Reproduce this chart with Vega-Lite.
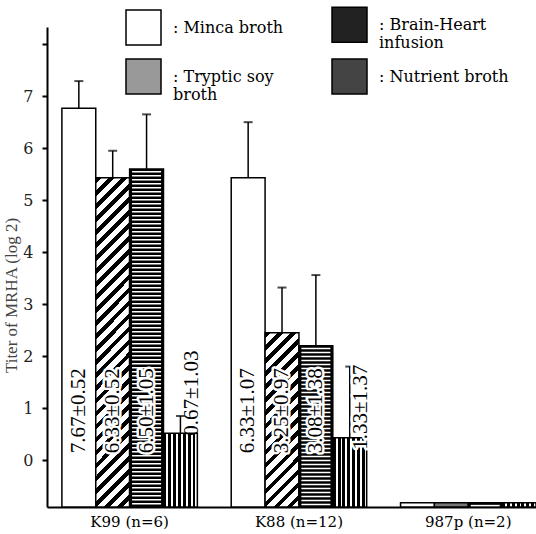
{
"$schema":"https://vega.github.io/schema/vega-lite/v6.json",
"width":489,"height":480,
"autosize":{"type":"none"},
"padding":{"left":47,"top":27,"right":0,"bottom":27},
"background":"white",
"config":{"view":{"stroke":null},"font":"Liberation Serif"},
"data":{"values":[
{"strain":"K99 (n=6)","medium":"Minca broth","value":7.67,"upper":8.19,"label":"7.67±0.52"},
{"strain":"K99 (n=6)","medium":"Tryptic soy broth","value":6.33,"upper":6.85,"label":"6.33±0.52"},
{"strain":"K99 (n=6)","medium":"Brain-Heart infusion","value":6.5,"upper":7.55,"label":"6.50±1.05"},
{"strain":"K99 (n=6)","medium":"Nutrient broth","value":1.42,"upper":1.75,"label":"0.67±1.03"},
{"strain":"K88 (n=12)","medium":"Minca broth","value":6.33,"upper":7.4,"label":"6.33±1.07"},
{"strain":"K88 (n=12)","medium":"Tryptic soy broth","value":3.35,"upper":4.22,"label":"3.25±0.97"},
{"strain":"K88 (n=12)","medium":"Brain-Heart infusion","value":3.1,"upper":4.46,"label":"3.08±1.38"},
{"strain":"K88 (n=12)","medium":"Nutrient broth","value":1.33,"upper":2.7,"label":"1.33±1.37"},
{"strain":"987p (n=2)","medium":"Minca broth","value":0.08},
{"strain":"987p (n=2)","medium":"Tryptic soy broth","value":0.08},
{"strain":"987p (n=2)","medium":"Brain-Heart infusion","value":0.08},
{"strain":"987p (n=2)","medium":"Nutrient broth","value":0.08}
]},
"encoding":{
 "x":{"field":"strain","type":"nominal","scale":{"domain":["K99 (n=6)","K88 (n=12)","987p (n=2)"],"paddingInner":0.2,"paddingOuter":0.044,"align":1},
  "axis":{"title":null,"labelAngle":0,"ticks":false,"domainColor":"black","domainWidth":2,"labelFont":"DejaVu Serif","labelFontSize":15,"labelColor":"black","labelPadding":7}},
 "xOffset":{"field":"medium","type":"nominal","scale":{"domain":["Minca broth","Tryptic soy broth","Brain-Heart infusion","Nutrient broth"],"paddingInner":0,"paddingOuter":0}}
},
"layer":[
{"mark":{"type":"bar","stroke":"black","strokeWidth":1.5},
 "encoding":{
  "y":{"field":"value","type":"quantitative","scale":{"domain":[0,9.23],"nice":false},
   "axis":{"values":[0.9,1.9,2.9,3.9,4.9,5.9,6.9,7.9,8.9],"labelExpr":"datum.value > 8 ? '' : '' + (round(datum.value) - 1)","title":"Titer of MRHA (log 2)","titleFont":"Liberation Serif","titleFontSize":17,"titleFontWeight":"normal","titleColor":"#444","titleX":-27,"titleY":268,"grid":false,"domainColor":"black","domainWidth":2,"tickColor":"black","tickWidth":2,"tickSize":5,"labelFont":"DejaVu Serif","labelFontSize":16,"labelColor":"#222","labelPadding":9}},
  "fill":{"field":"medium","type":"nominal",
   "scale":{"domain":["Minca broth","Tryptic soy broth","Brain-Heart infusion","Nutrient broth"],"range":["white","#999","#222","#444"]},
   "legend":{"orient":"none","legendX":78,"legendY":-21,"columns":2,"title":null,"symbolType":"square","symbolSize":1225,"symbolStrokeColor":"black","symbolStrokeWidth":1.5,"labelFont":"DejaVu Serif","labelFontSize":16,"labelColor":"black","labelOffset":11,"rowPadding":5,"columnPadding":45,"labelLimit":250,"labelBaseline":"middle","padding":0,
    "labelExpr":"datum.label == 'Brain-Heart infusion' ? [': Brain-Heart', '\u00a0\u00a0\u00a0infusion'] : datum.label == 'Tryptic soy broth' ? [': Tryptic soy', '\u00a0\u00a0broth'] : ': ' + datum.label"},
   "condition":[
    {"test":"datum.medium=='Tryptic soy broth' && datum.strain=='K99 (n=6)'","value":{"gradient":"linear","x1":0,"y1":0,"x2":0.113,"y2":1.092,"stops":[
{"offset":0,"color":"#000"},{"offset":0.0161,"color":"#000"},{"offset":0.0161,"color":"#fff"},{"offset":0.0357,"color":"#fff"},
{"offset":0.0357,"color":"#000"},{"offset":0.0518,"color":"#000"},{"offset":0.0518,"color":"#fff"},{"offset":0.0714,"color":"#fff"},
{"offset":0.0714,"color":"#000"},{"offset":0.0875,"color":"#000"},{"offset":0.0875,"color":"#fff"},{"offset":0.1071,"color":"#fff"},
{"offset":0.1071,"color":"#000"},{"offset":0.1232,"color":"#000"},{"offset":0.1232,"color":"#fff"},{"offset":0.1429,"color":"#fff"},
{"offset":0.1429,"color":"#000"},{"offset":0.1589,"color":"#000"},{"offset":0.1589,"color":"#fff"},{"offset":0.1786,"color":"#fff"},
{"offset":0.1786,"color":"#000"},{"offset":0.1946,"color":"#000"},{"offset":0.1946,"color":"#fff"},{"offset":0.2143,"color":"#fff"},
{"offset":0.2143,"color":"#000"},{"offset":0.2304,"color":"#000"},{"offset":0.2304,"color":"#fff"},{"offset":0.25,"color":"#fff"},
{"offset":0.25,"color":"#000"},{"offset":0.2661,"color":"#000"},{"offset":0.2661,"color":"#fff"},{"offset":0.2857,"color":"#fff"},
{"offset":0.2857,"color":"#000"},{"offset":0.3018,"color":"#000"},{"offset":0.3018,"color":"#fff"},{"offset":0.3214,"color":"#fff"},
{"offset":0.3214,"color":"#000"},{"offset":0.3375,"color":"#000"},{"offset":0.3375,"color":"#fff"},{"offset":0.3571,"color":"#fff"},
{"offset":0.3571,"color":"#000"},{"offset":0.3732,"color":"#000"},{"offset":0.3732,"color":"#fff"},{"offset":0.3929,"color":"#fff"},
{"offset":0.3929,"color":"#000"},{"offset":0.4089,"color":"#000"},{"offset":0.4089,"color":"#fff"},{"offset":0.4286,"color":"#fff"},
{"offset":0.4286,"color":"#000"},{"offset":0.4446,"color":"#000"},{"offset":0.4446,"color":"#fff"},{"offset":0.4643,"color":"#fff"},
{"offset":0.4643,"color":"#000"},{"offset":0.4804,"color":"#000"},{"offset":0.4804,"color":"#fff"},{"offset":0.5,"color":"#fff"},
{"offset":0.5,"color":"#000"},{"offset":0.5161,"color":"#000"},{"offset":0.5161,"color":"#fff"},{"offset":0.5357,"color":"#fff"},
{"offset":0.5357,"color":"#000"},{"offset":0.5518,"color":"#000"},{"offset":0.5518,"color":"#fff"},{"offset":0.5714,"color":"#fff"},
{"offset":0.5714,"color":"#000"},{"offset":0.5875,"color":"#000"},{"offset":0.5875,"color":"#fff"},{"offset":0.6071,"color":"#fff"},
{"offset":0.6071,"color":"#000"},{"offset":0.6232,"color":"#000"},{"offset":0.6232,"color":"#fff"},{"offset":0.6429,"color":"#fff"},
{"offset":0.6429,"color":"#000"},{"offset":0.6589,"color":"#000"},{"offset":0.6589,"color":"#fff"},{"offset":0.6786,"color":"#fff"},
{"offset":0.6786,"color":"#000"},{"offset":0.6946,"color":"#000"},{"offset":0.6946,"color":"#fff"},{"offset":0.7143,"color":"#fff"},
{"offset":0.7143,"color":"#000"},{"offset":0.7304,"color":"#000"},{"offset":0.7304,"color":"#fff"},{"offset":0.75,"color":"#fff"},
{"offset":0.75,"color":"#000"},{"offset":0.7661,"color":"#000"},{"offset":0.7661,"color":"#fff"},{"offset":0.7857,"color":"#fff"},
{"offset":0.7857,"color":"#000"},{"offset":0.8018,"color":"#000"},{"offset":0.8018,"color":"#fff"},{"offset":0.8214,"color":"#fff"},
{"offset":0.8214,"color":"#000"},{"offset":0.8375,"color":"#000"},{"offset":0.8375,"color":"#fff"},{"offset":0.8571,"color":"#fff"},
{"offset":0.8571,"color":"#000"},{"offset":0.8732,"color":"#000"},{"offset":0.8732,"color":"#fff"},{"offset":0.8929,"color":"#fff"},
{"offset":0.8929,"color":"#000"},{"offset":0.9089,"color":"#000"},{"offset":0.9089,"color":"#fff"},{"offset":0.9286,"color":"#fff"},
{"offset":0.9286,"color":"#000"},{"offset":0.9446,"color":"#000"},{"offset":0.9446,"color":"#fff"},{"offset":0.9643,"color":"#fff"},
{"offset":0.9643,"color":"#000"},{"offset":0.9804,"color":"#000"},{"offset":0.9804,"color":"#fff"},{"offset":1,"color":"#fff"}]}},
    {"test":"datum.medium=='Tryptic soy broth' && datum.strain=='K88 (n=12)'","value":{"gradient":"linear","x1":0,"y1":0,"x2":0.225,"y2":1.152,"stops":[
{"offset":0,"color":"#000"},{"offset":0.0281,"color":"#000"},{"offset":0.0281,"color":"#fff"},{"offset":0.0625,"color":"#fff"},
{"offset":0.0625,"color":"#000"},{"offset":0.0906,"color":"#000"},{"offset":0.0906,"color":"#fff"},{"offset":0.125,"color":"#fff"},
{"offset":0.125,"color":"#000"},{"offset":0.1531,"color":"#000"},{"offset":0.1531,"color":"#fff"},{"offset":0.1875,"color":"#fff"},
{"offset":0.1875,"color":"#000"},{"offset":0.2156,"color":"#000"},{"offset":0.2156,"color":"#fff"},{"offset":0.25,"color":"#fff"},
{"offset":0.25,"color":"#000"},{"offset":0.2781,"color":"#000"},{"offset":0.2781,"color":"#fff"},{"offset":0.3125,"color":"#fff"},
{"offset":0.3125,"color":"#000"},{"offset":0.3406,"color":"#000"},{"offset":0.3406,"color":"#fff"},{"offset":0.375,"color":"#fff"},
{"offset":0.375,"color":"#000"},{"offset":0.4031,"color":"#000"},{"offset":0.4031,"color":"#fff"},{"offset":0.4375,"color":"#fff"},
{"offset":0.4375,"color":"#000"},{"offset":0.4656,"color":"#000"},{"offset":0.4656,"color":"#fff"},{"offset":0.5,"color":"#fff"},
{"offset":0.5,"color":"#000"},{"offset":0.5281,"color":"#000"},{"offset":0.5281,"color":"#fff"},{"offset":0.5625,"color":"#fff"},
{"offset":0.5625,"color":"#000"},{"offset":0.5906,"color":"#000"},{"offset":0.5906,"color":"#fff"},{"offset":0.625,"color":"#fff"},
{"offset":0.625,"color":"#000"},{"offset":0.6531,"color":"#000"},{"offset":0.6531,"color":"#fff"},{"offset":0.6875,"color":"#fff"},
{"offset":0.6875,"color":"#000"},{"offset":0.7156,"color":"#000"},{"offset":0.7156,"color":"#fff"},{"offset":0.75,"color":"#fff"},
{"offset":0.75,"color":"#000"},{"offset":0.7781,"color":"#000"},{"offset":0.7781,"color":"#fff"},{"offset":0.8125,"color":"#fff"},
{"offset":0.8125,"color":"#000"},{"offset":0.8406,"color":"#000"},{"offset":0.8406,"color":"#fff"},{"offset":0.875,"color":"#fff"},
{"offset":0.875,"color":"#000"},{"offset":0.9031,"color":"#000"},{"offset":0.9031,"color":"#fff"},{"offset":0.9375,"color":"#fff"},
{"offset":0.9375,"color":"#000"},{"offset":0.9656,"color":"#000"},{"offset":0.9656,"color":"#fff"},{"offset":1,"color":"#fff"}]}},
    {"test":"datum.medium=='Tryptic soy broth'","value":"#777"},
    {"test":"datum.medium=='Brain-Heart infusion'","value":"black"},
    {"test":"datum.medium=='Nutrient broth'","value":{"gradient":"linear","x1":0,"y1":0,"x2":1,"y2":0,"stops":[
{"offset":0,"color":"#000"},{"offset":0.0857,"color":"#000"},{"offset":0.0857,"color":"#fff"},{"offset":0.1429,"color":"#fff"},
{"offset":0.1429,"color":"#000"},{"offset":0.2286,"color":"#000"},{"offset":0.2286,"color":"#fff"},{"offset":0.2857,"color":"#fff"},
{"offset":0.2857,"color":"#000"},{"offset":0.3714,"color":"#000"},{"offset":0.3714,"color":"#fff"},{"offset":0.4286,"color":"#fff"},
{"offset":0.4286,"color":"#000"},{"offset":0.5143,"color":"#000"},{"offset":0.5143,"color":"#fff"},{"offset":0.5714,"color":"#fff"},
{"offset":0.5714,"color":"#000"},{"offset":0.6571,"color":"#000"},{"offset":0.6571,"color":"#fff"},{"offset":0.7143,"color":"#fff"},
{"offset":0.7143,"color":"#000"},{"offset":0.8,"color":"#000"},{"offset":0.8,"color":"#fff"},{"offset":0.8571,"color":"#fff"},
{"offset":0.8571,"color":"#000"},{"offset":0.9429,"color":"#000"},{"offset":0.9429,"color":"#fff"},{"offset":1,"color":"#fff"}]}}
   ]}
 }},
{"transform":[{"filter":"datum.medium=='Brain-Heart infusion'"}],
 "mark":{"type":"rule","color":"white","strokeWidth":29,"strokeDash":[1.5,2.5],"strokeDashOffset":2,"strokeCap":"butt"},
 "encoding":{"y":{"field":"value","type":"quantitative"},"y2":{"datum":0}}},
{"transform":[{"filter":"isValid(datum.upper)"}],
 "mark":{"type":"rule","color":"black","strokeWidth":1.5},
 "encoding":{"y":{"field":"value","type":"quantitative"},"y2":{"field":"upper"}}},
{"transform":[{"filter":"isValid(datum.upper)"}],
 "mark":{"type":"tick","color":"black","thickness":2,"size":9},
 "encoding":{"y":{"field":"upper","type":"quantitative"}}},
{"transform":[{"filter":"isValid(datum.label) && datum.medium!='Nutrient broth'"}],
 "mark":{"type":"text","angle":270,"fontSize":21,"font":"Liberation Serif","fill":"white","stroke":"white","strokeWidth":5,"strokeJoin":"round","align":"center","baseline":"middle"},
 "encoding":{"y":{"datum":1.85},"text":{"field":"label"}}},
{"transform":[{"filter":"isValid(datum.label) && datum.medium!='Nutrient broth'"}],
 "mark":{"type":"text","angle":270,"fontSize":21,"font":"Liberation Serif","fill":"black","align":"center","baseline":"middle"},
 "encoding":{"y":{"datum":1.85},"text":{"field":"label"}}},
{"transform":[{"filter":"datum.medium=='Nutrient broth' && datum.strain=='K88 (n=12)'"}],
 "mark":{"type":"text","angle":270,"fontSize":21,"font":"Liberation Serif","fill":"white","stroke":"white","strokeWidth":5,"strokeJoin":"round","align":"center","baseline":"middle","dy":11},
 "encoding":{"y":{"datum":1.92},"text":{"field":"label"}}},
{"transform":[{"filter":"datum.medium=='Nutrient broth' && datum.strain=='K88 (n=12)'"}],
 "mark":{"type":"text","angle":270,"fontSize":21,"font":"Liberation Serif","fill":"black","align":"center","baseline":"middle","dy":11},
 "encoding":{"y":{"datum":1.92},"text":{"field":"label"}}},
{"transform":[{"filter":"datum.medium=='Nutrient broth' && datum.strain=='K99 (n=6)'"}],
 "mark":{"type":"text","angle":270,"fontSize":21,"font":"Liberation Serif","fill":"black","align":"center","baseline":"middle","dy":12},
 "encoding":{"y":{"datum":2.19},"text":{"field":"label"}}}
]
}
